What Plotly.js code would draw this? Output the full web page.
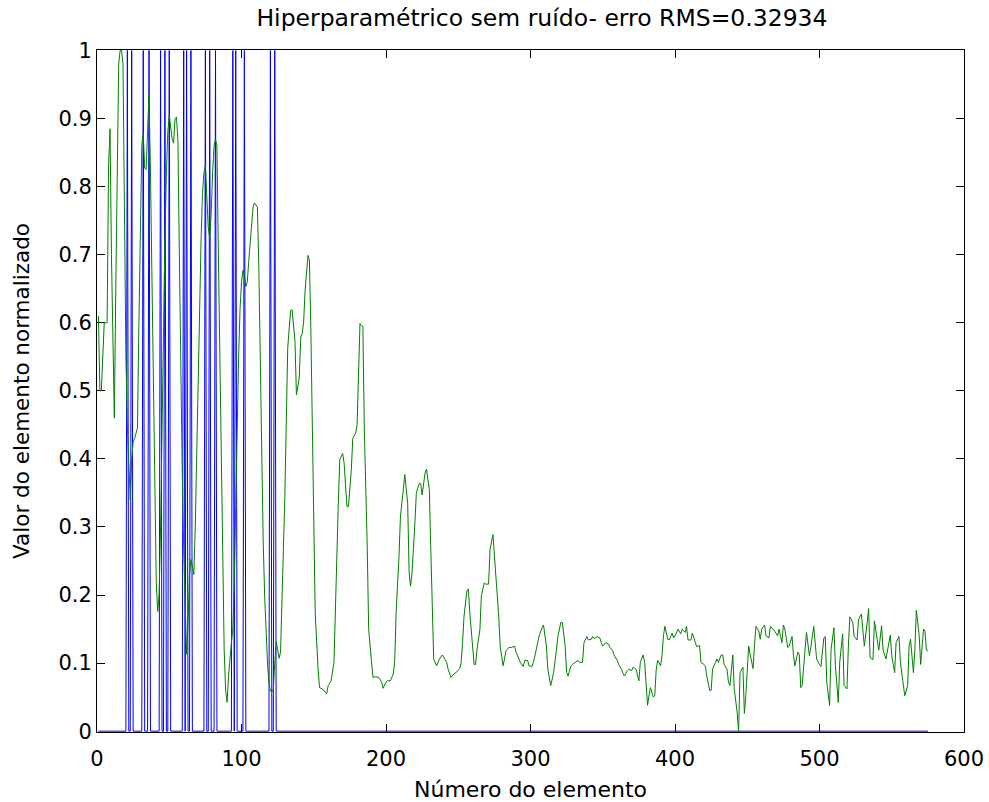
<!DOCTYPE html>
<html>
<head>
<meta charset="utf-8">
<script src="https://cdn.plot.ly/plotly-3.0.1.min.js"></script>
<style>html,body{margin:0;padding:0;background:#fff;}#chart{width:989px;height:802px;}</style>
</head>
<body>
<div id="chart"></div>
<script>
// Title and axis labels
const chartTitle = 'Hiperparamétrico sem ruído- erro RMS=0.32934';
const xLabel = 'Número do elemento';
const yLabel = 'Valor do elemento normalizado';

// Number of elements
const nElements = 575;

// Blue series: element numbers whose value is 1 (all others are 0)
const blueOnes = [21, 24, 32, 36, 44, 47, 50, 60, 62, 65, 75, 78, 82, 94, 96, 102, 120, 123];

// Green series: element numbers and values
const greenX = [
  1,2,3,4,5,6,7,8,9,10,11,12,13,14,15,16,17,18,19,20,
  21,22,23,24,25,26,27,28,29,30,31,32,33,34,35,36,37,38,39,40,
  41,42,43,44,45,46,47,48,49,50,51,52,53,54,55,56,57,58,59,60,
  61,62,63,64,65,66,67,68,69,70,71,72,73,74,75,76,77,78,79,80,
  81,82,83,84,85,86,87,88,89,90,91,92,93,94,95,96,97,98,99,100,
  101,102,103,104,105,106,107,108,109,110,111,112,113,114,115,116,117,118,119,120,
  121,122,123,124,125,126,127,
  130,132,134,135,137,138,140,141,142,143,144,146,147,148,150,151,153,154,156,157,
  159,160,162,164,165,166,167,168,170,171,173,174,176,177,179,180,181,182,184,185,
  187,188,190,191,193,195,197,198,200,201,203,205,206,207,209,210,212,213,215,216,
  217,218,220,221,223,224,225,227,228,230,231,232,233,235,237,239,240,242,243,245,
  247,249,251,252,253,254,256,257,258,260,261,262,263,265,266,268,269,271,272,274,
  275,277,278,279,281,282,283,285,287,289,290,292,293,295,296,298,299,301,302,304,
  306,308,309,311,312,314,316,318,319,321,322,324,325,326,328,329,331,333,334,336,
  337,339,340,342,343,344,346,348,349,350,352,354,355,357,358,360,361,363,364,365,
  367,368,370,371,373,375,376,378,379,380,381,382,383,385,386,387,388,390,391,392,
  393,395,396,398,399,401,402,404,405,407,408,409,411,412,414,415,417,418,420,421,
  422,424,425,426,428,429,430,432,433,434,436,437,438,440,441,443,444,445,447,448,
  449,451,452,454,455,456,458,459,460,462,463,465,466,468,469,471,472,474,475,476,
  478,479,481,482,483,485,486,487,488,490,491,493,494,496,497,498,500,501,503,504,
  505,507,508,510,511,513,514,516,517,519,520,521,523,524,526,527,529,530,531,533,
  534,535,537,538,540,541,543,544,546,547,549,550,552,553,555,556,558,559,561,562,
  563,565,566,567,569,570,572,573,574,575
];
const greenY = [
  0.61,0.50,0.50,0.55,0.60,0.60,0.60,0.83,0.885,0.70,0.55,0.46,0.65,0.85,0.98,1.0,1.0,0.98,0.75,0.55,
  0.45,0.38,0.34,0.40,0.425,0.43,0.44,0.445,0.60,0.75,0.86,0.878,0.827,0.825,0.88,0.937,0.82,0.66,0.50,0.35,
  0.22,0.176,0.20,0.30,0.45,0.60,0.72,0.82,0.88,0.905,0.89,0.87,0.864,0.90,0.902,0.868,0.70,0.50,0.38,0.27,
  0.17,0.113,0.16,0.23,0.252,0.24,0.23,0.30,0.42,0.53,0.63,0.72,0.79,0.82,0.831,0.79,0.74,0.723,0.76,0.82,
  0.86,0.869,0.86,0.70,0.55,0.40,0.25,0.12,0.06,0.0425,0.08,0.11,0.13,0.15,0.22,0.33,0.45,0.55,0.62,0.66,
  0.677,0.67,0.653,0.66,0.69,0.72,0.75,0.77,0.776,0.772,0.77,0.68,0.52,0.38,0.28,0.20,0.14,0.10,0.07,0.059,
  0.059,0.06,0.10,0.132,0.12,0.107,0.116,
  0.345,0.564,0.618,0.619,0.574,0.494,0.52,0.579,0.584,0.601,0.647,0.699,0.692,0.589,0.345,0.174,0.091,0.064,0.062,0.06,
  0.055,0.067,0.074,0.101,0.189,0.272,0.335,0.399,0.408,0.394,0.33,0.33,0.384,0.43,0.438,0.45,0.516,0.599,0.594,0.442,
  0.272,0.15,0.101,0.079,0.08,0.079,0.072,0.063,0.072,0.074,0.074,0.084,0.101,0.174,0.257,0.316,0.355,0.377,0.335,0.233,
  0.213,0.233,0.306,0.35,0.364,0.364,0.347,0.379,0.385,0.355,0.267,0.174,0.106,0.096,0.106,0.112,0.108,0.101,0.091,0.079,
  0.084,0.087,0.092,0.101,0.13,0.169,0.206,0.209,0.174,0.12,0.098,0.098,0.12,0.15,0.199,0.218,0.216,0.216,0.267,0.289,
  0.257,0.208,0.169,0.125,0.096,0.106,0.118,0.123,0.123,0.125,0.116,0.106,0.101,0.095,0.104,0.104,0.096,0.095,0.101,0.12,
  0.14,0.152,0.156,0.125,0.091,0.067,0.086,0.12,0.14,0.16,0.16,0.125,0.086,0.081,0.096,0.098,0.101,0.104,0.101,0.101,
  0.13,0.139,0.134,0.135,0.139,0.136,0.139,0.137,0.13,0.125,0.13,0.128,0.123,0.118,0.111,0.104,0.098,0.091,0.085,0.081,
  0.089,0.091,0.089,0.094,0.091,0.074,0.101,0.112,0.101,0.062,0.038,0.052,0.064,0.05,0.052,0.091,0.104,0.096,0.111,0.14,
  0.154,0.135,0.134,0.144,0.137,0.144,0.15,0.143,0.15,0.145,0.154,0.134,0.134,0.144,0.13,0.124,0.126,0.101,0.098,0.096,
  0.081,0.06,0.06,0.091,0.101,0.106,0.101,0.112,0.112,0.098,0.091,0.072,0.067,0.112,0.062,0.028,0.0,0.086,0.094,0.026,
  0.052,0.125,0.113,0.092,0.125,0.154,0.147,0.135,0.15,0.156,0.14,0.137,0.154,0.15,0.147,0.14,0.15,0.13,0.156,0.15,
  0.123,0.125,0.139,0.111,0.096,0.116,0.113,0.064,0.067,0.12,0.145,0.111,0.123,0.154,0.13,0.106,0.098,0.095,0.137,0.139,
  0.072,0.038,0.12,0.152,0.096,0.042,0.101,0.143,0.067,0.062,0.125,0.168,0.16,0.139,0.134,0.164,0.172,0.143,0.125,0.16,
  0.18,0.108,0.105,0.162,0.137,0.119,0.155,0.119,0.106,0.119,0.141,0.111,0.086,0.13,0.139,0.101,0.062,0.052,0.067,0.125,
  0.135,0.086,0.12,0.178,0.14,0.098,0.15,0.147,0.119,0.118
];

// Tick values
const xTicks = [0, 100, 200, 300, 400, 500, 600];
const yTicks = [0, 0.1, 0.2, 0.3, 0.4, 0.5, 0.6, 0.7, 0.8, 0.9, 1];

// Build blue series from the list of ones
const blueX = [], blueY = [];
for (let i = 1; i <= nElements; i++) {
  blueX.push(i);
  blueY.push(blueOnes.includes(i) ? 1 : 0);
}

const FONT = 'DejaVu Sans, Arial, Helvetica, sans-serif';

const traces = [
  {x: blueX, y: blueY, type: 'scatter', mode: 'lines', line: {color: '#0000ff', width: 1}, hoverinfo: 'none'},
  {x: greenX, y: greenY, type: 'scatter', mode: 'lines', line: {color: '#008000', width: 1}, hoverinfo: 'none'}
];

const axisCommon = {
  showline: true, linecolor: '#000', linewidth: 1, mirror: 'ticks',
  ticks: 'inside', ticklen: 8, tickcolor: '#000', tickwidth: 1,
  showgrid: false, zeroline: false, layer: 'below traces',
  tickfont: {family: FONT, size: 21, color: '#000'}
};

const layout = {
  width: 989, height: 802,
  margin: {l: 97, r: 25, t: 50, b: 70},
  paper_bgcolor: '#fff', plot_bgcolor: '#fff',
  showlegend: false,
  title: {text: chartTitle, font: {family: FONT, size: 23.5, color: '#000'},
          x: 0.548, xanchor: 'center', y: 0.978, yanchor: 'middle', yref: 'container'},
  xaxis: Object.assign({}, axisCommon, {
    range: [0, 600], tickvals: xTicks, ticktext: xTicks.map(String),
    ticklabelstandoff: 8,
    title: {text: xLabel, font: {family: FONT, size: 22, color: '#000'}, standoff: 14}
  }),
  yaxis: Object.assign({}, axisCommon, {
    range: [-0.0012, 1.0007], tickvals: yTicks, ticktext: yTicks.map(String),
    title: {text: yLabel, font: {family: FONT, size: 21.5, color: '#000'}, standoff: 22}
  })
};

Plotly.newPlot('chart', traces, layout, {displayModeBar: false, staticPlot: true});
</script>
</body>
</html>
